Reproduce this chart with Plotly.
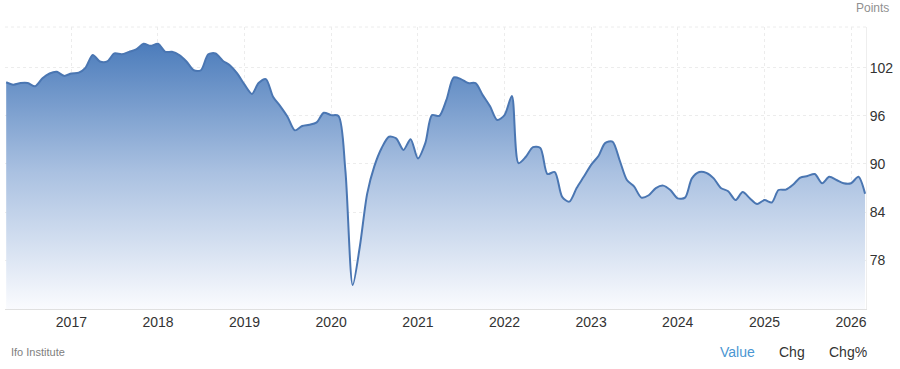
import pandas as pd
import plotly.graph_objects as go

# ---- data ----
months = pd.date_range("2016-04-01", "2026-03-01", freq="MS")
values = [
    100.2, 99.9, 100.1, 100.1, 99.7, 100.7, 101.3, 101.5, 101.0,
    101.3, 101.4, 102.0, 103.6, 102.8, 102.8, 103.8, 103.7, 104.0, 104.3, 105.0, 104.75,
    105.0, 104.0, 104.0, 103.6, 102.8, 101.7, 101.7, 103.7, 103.8, 102.9, 102.3, 101.3,
    99.9, 98.75, 100.1, 100.6, 98.4, 97.2, 95.9, 94.2, 94.75, 94.9, 95.2, 96.4,
    96.1, 96.0, 89.2, 74.9, 79.7, 86.3, 89.7, 92.0, 93.4, 93.2, 91.75, 93.1,
    90.7, 92.6, 96.1, 96.0, 98.0, 100.8, 100.6, 100.1, 100.1, 98.6, 97.2, 95.5,
    96.1, 98.5, 90.1, 90.9, 92.1, 92.0, 88.75, 89.0, 85.9, 85.3, 87.0, 88.4,
    89.9, 91.0, 92.6, 92.8, 90.5, 88.0, 87.2, 85.8, 86.1, 87.0, 87.3, 86.75,
    85.7, 85.8, 88.2, 89.0, 88.9, 88.2, 87.0, 86.6, 85.5, 86.5, 85.7, 85.0,
    85.5, 85.2, 86.75, 86.8, 87.4, 88.3, 88.5, 88.75, 87.6, 88.4, 88.0, 87.6,
    87.6, 88.4, 86.3,
]
y_ticks = [78, 84, 90, 96, 102]
y_range = [71.9, 107.1]
x_range = ["2016-03-27", "2026-03-05"]

W, H = 900, 369
ML, MR, MT, MB = 5, 34, 27, 60

fig = go.Figure()
fig.add_trace(go.Scatter(
    x=months, y=values, mode="lines",
    line=dict(color="#4a76b2", width=2, shape="spline", smoothing=0.8),
    fill="tozeroy",
    fillgradient=dict(type="vertical", start=71.9, stop=106,
                      colorscale=[[0, "rgb(250,251,254)"], [0.5, "rgb(170,193,225)"], [1, "rgb(70,120,185)"]]),
    hoverinfo="skip",
))

grid = dict(showgrid=True, gridcolor="#ececec", griddash="dot", gridwidth=1)
fig.update_layout(
    width=W, height=H,
    margin=dict(l=ML, r=MR, t=MT, b=MB),
    paper_bgcolor="white", plot_bgcolor="white",
    showlegend=False,
    font=dict(family="Liberation Sans, Arial, sans-serif", color="#333333"),
    xaxis=dict(range=x_range, type="date", tick0="2017-01-01", dtick="M12",
               tickformat="%Y", ticks="", tickfont=dict(size=14, color="#333333"),
               ticklabelstandoff=0,
               showline=True, linecolor="#e0e0e0", linewidth=1, zeroline=False,
               **grid),
    yaxis=dict(range=y_range, side="right", tickvals=y_ticks, ticks="",
               tickfont=dict(size=14, color="#333333"),
               showline=True, linecolor="#eeeeee", zeroline=False, **grid),
)
# top border dotted
fig.add_shape(type="line", xref="paper", yref="paper", x0=0, x1=1, y0=1, y1=1,
              line=dict(color="#ececec", width=1, dash="dot"))

def px_x(p):
    return (p - ML) / (W - ML - MR)

def px_y(p):
    return (H - MB - p) / (H - MT - MB)

fig.add_annotation(text="Points", xref="paper", yref="paper", x=px_x(891), y=px_y(8),
                   xanchor="right", yanchor="middle", showarrow=False,
                   font=dict(size=12, color="#909090"))
fig.add_annotation(text="Ifo Institute", xref="paper", yref="paper", x=px_x(9), y=px_y(352),
                   xanchor="left", yanchor="middle", showarrow=False,
                   font=dict(size=11, color="#808080"))
for label, cx, col in [("Value", 737, "#4a96d2"), ("Chg", 792, "#333333"), ("Chg%", 848, "#333333")]:
    fig.add_annotation(text=label, xref="paper", yref="paper", x=px_x(cx), y=px_y(352),
                       xanchor="center", yanchor="middle", showarrow=False,
                       font=dict(size=14, color=col))

fig.write_html("out.html")
